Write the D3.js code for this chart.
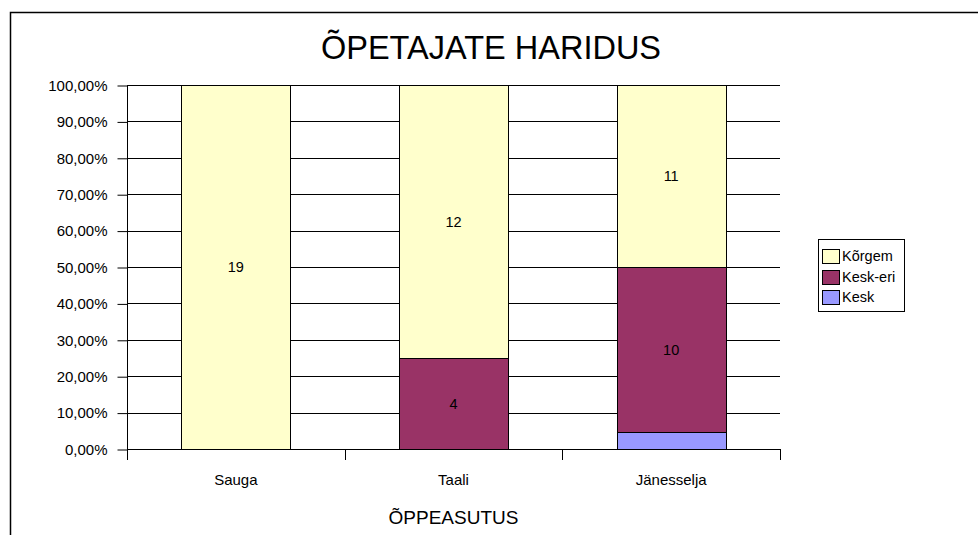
<!DOCTYPE html>
<html><head><meta charset="utf-8">
<script src="https://cdn.jsdelivr.net/npm/d3@7"></script>
<style>body{margin:0;background:#fff}svg{display:block;font-family:"Liberation Sans",Arial,sans-serif}</style>
</head><body>
<script>
const categories = ["Sauga", "Taali", "Jänesselja"];
const seriesNames = ["Kesk", "Kesk-eri", "Kõrgem"];
const kesk = [0, 0, 1];
const keskEri = [0, 4, 10];
const korgem = [19, 12, 11];
const colors = ["#9999FF", "#993366", "#FFFFCC"];
const yTicks = [0, 0.1, 0.2, 0.3, 0.4, 0.5, 0.6, 0.7, 0.8, 0.9, 1.0];
const showLabel = [false, true, true];

(function () {
const W = 978, H = 535;
const svg = d3.select("body").append("svg").attr("width", W).attr("height", H);

// frame
svg.append("rect").attr("x", 10.5).attr("y", 12.5).attr("width", 1000).attr("height", 600)
  .attr("fill", "#fff").attr("stroke", "#000").attr("stroke-width", 1.5);

const pLeft = 127, pRight = 780, pTop = 85, pBottom = 449;
const x = d3.scaleBand().domain(categories).range([pLeft, pRight]).paddingInner(0.5).paddingOuter(0.25);
const y = d3.scaleLinear().domain([0, 1]).range([pBottom, pTop]);

// gridlines
svg.append("g").selectAll("line").data(yTicks.slice(1)).join("line")
  .attr("x1", pLeft).attr("x2", pRight)
  .attr("y1", d => Math.round(y(d)) + 0.5).attr("y2", d => Math.round(y(d)) + 0.5)
  .attr("stroke", "#000").attr("stroke-width", 1);

// stack
const rows = categories.map((c, i) => {
  const vals = [kesk[i], keskEri[i], korgem[i]];
  const tot = d3.sum(vals);
  const o = { cat: c };
  seriesNames.forEach((s, j) => o[s] = vals[j] / tot);
  o.raw = vals;
  return o;
});
const stacked = d3.stack().keys(seriesNames)(rows);

const g = svg.append("g");
stacked.forEach((layer, j) => {
  layer.forEach((d, i) => {
    const v = rows[i].raw[j];
    if (v === 0) return;
    g.append("rect")
      .attr("x", Math.round(x(categories[i])) + 0.5)
      .attr("y", Math.round(y(d[1])) + 0.5)
      .attr("width", Math.round(x.bandwidth()))
      .attr("height", Math.round(y(d[0])) - Math.round(y(d[1])))
      .attr("fill", colors[j]).attr("stroke", "#000").attr("stroke-width", 1);
    if (showLabel[j]) {
      g.append("text")
        .attr("x", x(categories[i]) + x.bandwidth() / 2)
        .attr("y", (y(d[0]) + y(d[1])) / 2 + 5)
        .attr("text-anchor", "middle").attr("font-size", 14.5).attr("fill", "#000")
        .text(v);
    }
  });
});

// y axis
const yAxis = d3.axisLeft(y).tickValues(yTicks).tickSize(10).tickPadding(10)
  .tickFormat(d => d3.format(".2f")(d * 100).replace(".", ",") + "%");
const ya = svg.append("g").attr("transform", `translate(${pLeft + 0.5},0.5)`).call(yAxis);
ya.select(".domain").attr("d", `M0,${pTop}V${pBottom}`).attr("stroke", "#000");
ya.selectAll(".tick line").attr("stroke", "#000");
ya.selectAll(".tick text").attr("font-size", 15).attr("fill", "#000")
  .attr("font-family", '"Liberation Sans",Arial,sans-serif');

// x axis baseline and tick marks at category boundaries
svg.append("line").attr("x1", pLeft).attr("x2", pRight)
  .attr("y1", pBottom + 0.5).attr("y2", pBottom + 0.5).attr("stroke", "#000");
const step = (pRight - pLeft) / categories.length;
const bounds = d3.range(categories.length + 1).map(k => pLeft + k * step);
svg.append("g").selectAll("line").data(bounds).join("line")
  .attr("x1", d => Math.round(d) + 0.5).attr("x2", d => Math.round(d) + 0.5)
  .attr("y1", pBottom).attr("y2", pBottom + 11).attr("stroke", "#000");
svg.append("g").selectAll("text").data(categories).join("text")
  .attr("x", d => x(d) + x.bandwidth() / 2).attr("y", 485)
  .attr("text-anchor", "middle").attr("font-size", 15).text(d => d);

// titles
svg.append("text").attr("x", 491).attr("y", 59).attr("text-anchor", "middle")
  .attr("font-size", 32.5).text("ÕPETAJATE HARIDUS");
svg.append("text").attr("x", (pLeft + pRight) / 2).attr("y", 524).attr("text-anchor", "middle")
  .attr("font-size", 19).text("ÕPPEASUTUS");

// legend
const lg = svg.append("g");
lg.append("rect").attr("x", 818.5).attr("y", 239.5).attr("width", 86).attr("height", 72)
  .attr("fill", "#fff").attr("stroke", "#000");
const legendOrder = [2, 1, 0];
legendOrder.forEach((j, k) => {
  const yy = 249 + k * 20.5;
  lg.append("rect").attr("x", 822.5).attr("y", Math.round(yy) + 0.5).attr("width", 17).attr("height", 14)
    .attr("fill", colors[j]).attr("stroke", "#000");
  lg.append("text").attr("x", 842).attr("y", yy + 12).attr("font-size", 14.5).text(seriesNames[j]);
});
})();
</script>
</body></html>
